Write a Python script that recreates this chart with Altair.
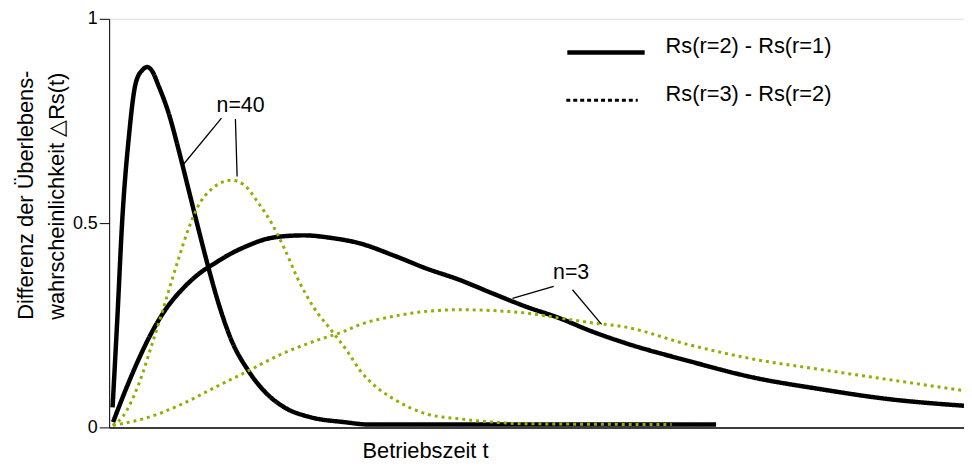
import altair as alt
import pandas as pd

FONT = "Liberation Sans"
GREEN = "#8fb000"

# ---- data (t in arbitrary operating-time units 0..100) ----
n40_r21_t = [0.4, 0.96, 1.54, 2.32, 3.10, 3.9, 4.45, 5.0, 5.80, 6.96, 8.12, 9.28, 10.44,
             11.6, 12.76, 14.27, 16.24, 18.18, 20.5, 23.55, 27.46, 30.5, 71.0]
n40_r21_v = [0.049, 0.268, 0.510, 0.714, 0.842, 0.875, 0.882, 0.873, 0.835, 0.769, 0.680,
             0.583, 0.486, 0.392, 0.306, 0.215, 0.140, 0.088, 0.049, 0.025, 0.013, 0.007, 0.007]

n40_r32_t = [0.4, 1.54, 3.48, 5.02, 6.58, 8.12, 9.28, 10.44, 11.98, 14.3, 15.86, 17.4,
             18.94, 20.5, 22.04, 23.98, 25.9, 27.84, 29.4, 31.3, 33.26, 37.1, 41.0, 44.86,
             48.7, 65.8]
n40_r32_v = [0.005, 0.025, 0.107, 0.204, 0.308, 0.413, 0.486, 0.543, 0.583, 0.605, 0.592,
             0.551, 0.502, 0.438, 0.365, 0.292, 0.24, 0.187, 0.138, 0.098, 0.070, 0.033,
             0.021, 0.013, 0.009, 0.007]

n3_r21_t = [0.46, 1.93, 3.48, 5.02, 6.58, 8.5, 10.44, 12.38, 14.3, 16.24, 18.18, 20.5,
            22.8, 25.9, 29.4, 33.26, 37.1, 41.0, 44.85, 48.7, 52.6, 56.46, 60.3, 67.7,
            75.4, 83.1, 90.9, 100]
n3_r21_v = [0.013, 0.092, 0.168, 0.234, 0.288, 0.337, 0.375, 0.402, 0.426, 0.445, 0.460,
            0.468, 0.470, 0.464, 0.45, 0.421, 0.389, 0.361, 0.328, 0.296, 0.268, 0.235,
            0.207, 0.163, 0.122, 0.094, 0.070, 0.053]

n3_r32_t = [0.46, 4.64, 8.5, 12.38, 16.24, 20.1, 24.0, 27.46, 29.4, 33.26, 37.1, 41.0,
            44.85, 48.7, 52.6, 56.46, 60.3, 67.7, 75.4, 83.1, 90.9, 100]
n3_r32_v = [0.005, 0.025, 0.057, 0.098, 0.138, 0.179, 0.211, 0.235, 0.252, 0.272, 0.284,
            0.288, 0.286, 0.280, 0.268, 0.256, 0.246, 0.203, 0.167, 0.142, 0.118, 0.09]

series_names = ["Rs(r=2) - Rs(r=1)", "Rs(r=3) - Rs(r=2)"]

# annotations
ann_labels = ["n=40", "n=3"]
ann_t = [15.37, 54.04]
ann_v = [0.786, 0.377]

# leader lines (start t, start v, end t, end v)
lead_t1 = [13.14, 14.77, 52.0, 54.2]
lead_v1 = [0.757, 0.755, 0.345, 0.337]
lead_t2 = [8.70, 14.97, 47.18, 57.6]
lead_v2 = [0.644, 0.614, 0.316, 0.252]

y_ticks = [0, 0.5, 1]

# ---- build tables ----
rows = []
for name, n, s, ts, vs in [
    ("n40_r21", 40, series_names[0], n40_r21_t, n40_r21_v),
    ("n3_r21", 3, series_names[0], n3_r21_t, n3_r21_v),
    ("n40_r32", 40, series_names[1], n40_r32_t, n40_r32_v),
    ("n3_r32", 3, series_names[1], n3_r32_t, n3_r32_v),
]:
    for t, v in zip(ts, vs):
        rows.append({"curve": name, "series": s, "t": t, "v": v})
df = pd.DataFrame(rows)

ann_df = pd.DataFrame({"label": ann_labels, "t": ann_t, "v": ann_v})
lead_df = pd.DataFrame({"t1": lead_t1, "v1": lead_v1, "t2": lead_t2, "v2": lead_v2})

xscale = alt.Scale(domain=[0, 100], nice=False, zero=False)
yscale = alt.Scale(domain=[0, 1], nice=False)

x_enc = alt.X("t:Q", scale=xscale, axis=alt.Axis(
    title="Betriebszeit t", labels=False, ticks=False, grid=False,
    domainColor="black", domainWidth=1.5,
    titleFont=FONT, titleFontSize=22, titleFontWeight="normal", titleColor="black",
    titleX=255, titleY=30, titleAlign="left", titleBaseline="alphabetic"))
y_enc = alt.Y("v:Q", scale=yscale, axis=alt.Axis(
    title=["Differenz der Überlebens-", "wahrscheinlichkeit △Rs(t)"],
    values=y_ticks, format="~g", grid=False,
    domainColor="black", domainWidth=1, tickColor="black", tickSize=10, tickWidth=1,
    labelFont=FONT, labelFontSize=18, labelColor="black", labelPadding=2,
    titleFont=FONT, titleFontSize=22, titleFontWeight="normal", titleColor="black",
    titleAngle=270, titleAlign="left", titleBaseline="alphabetic",
    titleX=-77, titleY=303, titleLineHeight=31))

lines = alt.Chart(df).mark_line(interpolate="monotone").encode(
    x=x_enc,
    y=y_enc,
    detail="curve:N",
    color=alt.Color("series:N", scale=alt.Scale(domain=series_names, range=["black", GREEN]), legend=None),
    strokeDash=alt.StrokeDash("series:N", scale=alt.Scale(domain=series_names, range=[[1, 0], [3, 4]]), legend=None),
    strokeWidth=alt.StrokeWidth("series:N", scale=alt.Scale(domain=series_names, range=[4.5, 3]), legend=None),
    order=alt.Order("t:Q"),
)

leaders = alt.Chart(lead_df).mark_rule(color="black", strokeWidth=1.3).encode(
    x=alt.X("t1:Q", scale=xscale), y=alt.Y("v1:Q", scale=yscale),
    x2="t2:Q", y2="v2:Q")

ann = alt.Chart(ann_df).mark_text(font=FONT, fontSize=21.5, color="black",
                                  align="center", baseline="middle").encode(
    x=alt.X("t:Q", scale=xscale), y=alt.Y("v:Q", scale=yscale), text="label:N")

# legend (drawn manually)
leg_solid = alt.Chart(pd.DataFrame({"s": [series_names[0]]})).mark_rule(
    color="black", strokeWidth=4.5).encode(x=alt.value(462), x2=alt.value(540), y=alt.value(34))
leg_dot = alt.Chart(pd.DataFrame({"s": [series_names[1]]})).mark_rule(
    color="black", strokeWidth=3, strokeDash=[4, 3]).encode(x=alt.value(461), x2=alt.value(533), y=alt.value(82))
leg_t1 = alt.Chart(pd.DataFrame({"s": [series_names[0]]})).mark_text(
    font=FONT, fontSize=22, color="black", align="left", baseline="middle").encode(
    x=alt.value(561), y=alt.value(27), text="s:N")
leg_t2 = alt.Chart(pd.DataFrame({"s": [series_names[1]]})).mark_text(
    font=FONT, fontSize=22, color="black", align="left", baseline="middle").encode(
    x=alt.value(561), y=alt.value(75.5), text="s:N")

chart = alt.layer(lines, leaders, ann, leg_solid, leg_dot, leg_t1, leg_t2).properties(
    width=862, height=412,
    autosize=alt.AutoSizeParams(type="none"),
    padding={"left": 102, "top": 9, "right": 0, "bottom": 37},
).configure_view(stroke=None).configure(background="white")

chart.save("out.html", embed_options={"renderer": "svg", "actions": False})
